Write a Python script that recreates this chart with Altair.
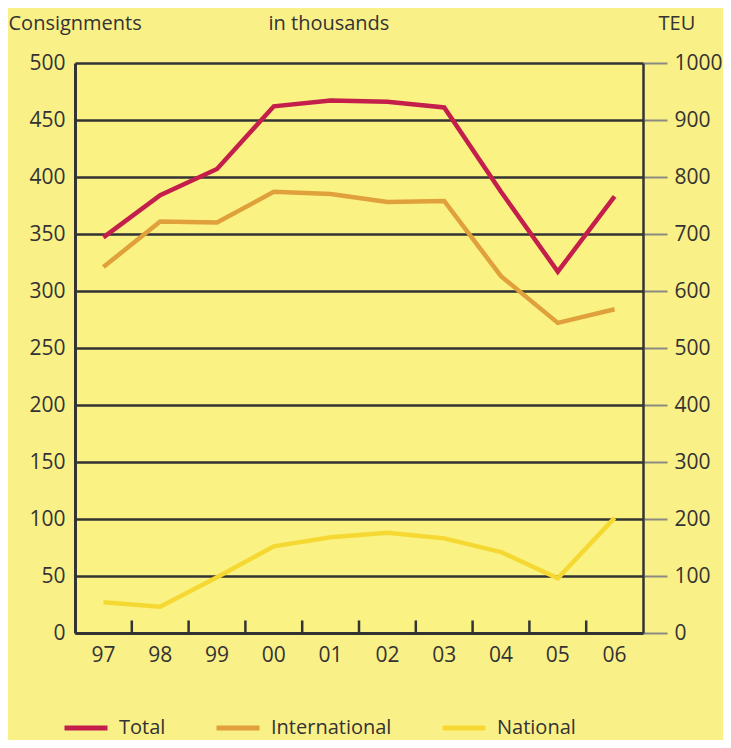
import altair as alt
import pandas as pd

years = ["97", "98", "99", "00", "01", "02", "03", "04", "05", "06"]
total = [347, 384, 407, 462, 467, 466, 461, 387, 317, 383]
international = [321, 361, 360, 387, 385, 378, 379, 313, 272, 284]
national = [27, 23, 49, 76, 84, 88, 83, 71, 48, 101]
series = ["Total", "International", "National"]
colors = ["#C41E4A", "#E0A03C", "#F5D932"]
left_ticks = [0, 50, 100, 150, 200, 250, 300, 350, 400, 450, 500]
teu_ticks = [0, 100, 200, 300, 400, 500, 600, 700, 800, 900, 1000]

rows = []
for name, vals in zip(series, [total, international, national]):
    for y, v in zip(years, vals):
        rows.append({"year": y, "series": name, "value": v})
df = pd.DataFrame(rows)
bounds = pd.DataFrame({"year": years[1:]})
teu_df = pd.DataFrame({"teu": teu_ticks})

FONT = "Open Sans"
TXT = "#333333"
LAB = 21
TIT = 20

xscale = alt.Scale(domain=years, paddingInner=0, paddingOuter=0)
yscale = alt.Scale(domain=[0, 500], nice=False)
xaxis = alt.Axis(title="in thousands", titleAngle=0, titleAlign="left",
                 titleBaseline="top", titleX=193, titleY=-620,
                 titleFontSize=TIT, titleFontWeight="normal", titleColor=TXT,
                 ticks=False, labelPadding=11, labelFontSize=LAB, labelAngle=0,
                 domainColor="#333333", domainWidth=3, labelColor=TXT, grid=False)

lines = alt.Chart(df).mark_line(strokeWidth=4.5).encode(
    x=alt.X("year:O", sort=years, scale=xscale, axis=xaxis),
    y=alt.Y("value:Q", scale=yscale,
            axis=alt.Axis(values=left_ticks, title="Consignments", titleAngle=0,
                          titleAlign="left", titleBaseline="top",
                          titleX=-67, titleY=-50, titleFontSize=TIT,
                          titleFontWeight="normal", titleColor=TXT,
                          ticks=False, labelPadding=10, labelFontSize=LAB,
                          labelColor=TXT, domainColor="#333333", domainWidth=3,
                          grid=True, gridColor="#333333", gridWidth=2.5)),
    color=alt.Color("series:N", sort=series,
                    scale=alt.Scale(domain=series, range=colors),
                    legend=alt.Legend(title=None, orient="none", direction="horizontal",
                                      legendX=-13, legendY=641, symbolType="stroke",
                                      symbolSize=1849, symbolStrokeWidth=5,
                                      labelFontSize=TIT, labelColor=TXT,
                                      labelOffset=9, columnPadding=40)),
)

tick_rules = alt.Chart(bounds).mark_rule(color="#333333", strokeWidth=2.5).encode(
    x=alt.X("year:O", sort=years, scale=xscale, bandPosition=0, axis=xaxis),
    y=alt.YDatum(0, scale=yscale),
    y2=alt.datum(11),
)

right = alt.Chart(teu_df).mark_rule(opacity=0).encode(
    y=alt.Y("teu:Q", scale=alt.Scale(domain=[0, 1000], nice=False),
            axis=alt.Axis(orient="right", values=teu_ticks, format="d", title="TEU",
                          titleAngle=0, titleAlign="left", titleBaseline="top",
                          titleX=15, titleY=-50, titleFontSize=TIT,
                          titleFontWeight="normal", titleColor=TXT,
                          ticks=True, tickSize=24, tickColor="#8a8a80", tickWidth=2,
                          labelPadding=7, labelFontSize=LAB, labelColor=TXT,
                          labelFlush=False,
                          domainColor="#333333", domainWidth=2.5, grid=False)),
)

left_part = alt.layer(lines, tick_rules)

chart = alt.layer(left_part, right).resolve_scale(y="independent").properties(
    width=568, height=570,
    autosize=alt.AutoSizeParams(type="none"),
    padding={"left": 67, "top": 55, "right": 80, "bottom": 107},
    background="#FAF088",
).configure(font=FONT).configure_view(
    stroke=None,
    fill="#FBF284",
)

chart.save("out.html", embed_options={"renderer": "svg", "actions": False})
